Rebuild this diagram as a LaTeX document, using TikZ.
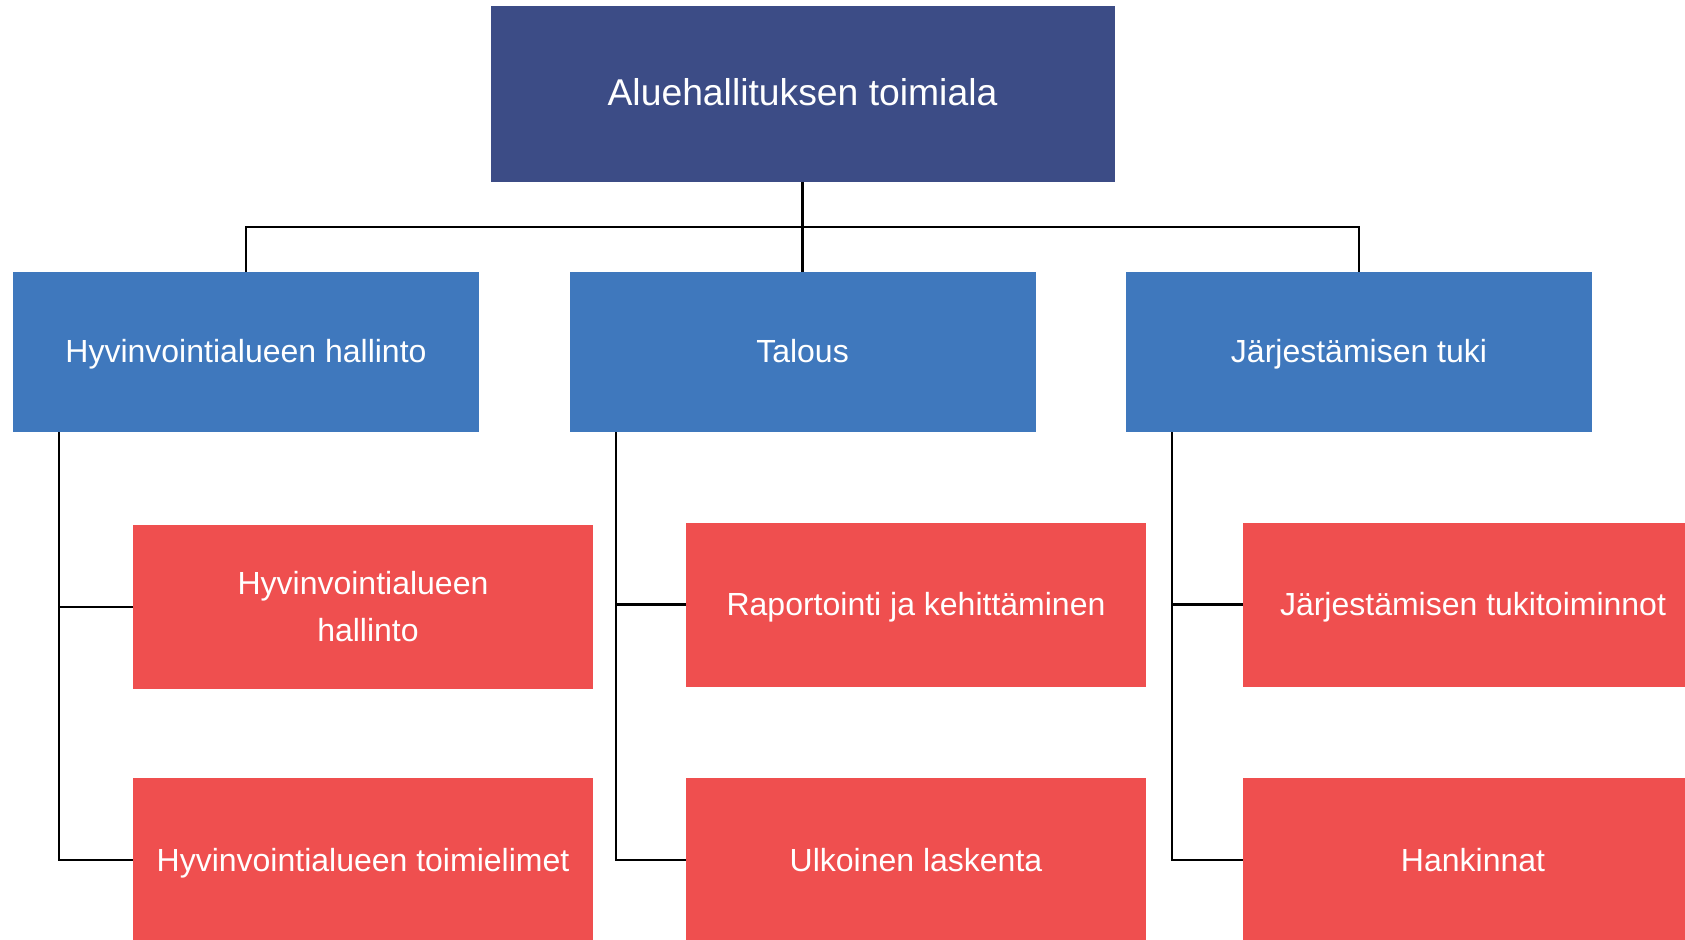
\documentclass[tikz,border=0pt]{standalone}
\usepackage{fontspec}
\setmainfont{Liberation Sans}
\definecolor{navy}{HTML}{3C4C86}
\definecolor{midblue}{HTML}{3F78BD}
\definecolor{boxred}{HTML}{EF4F4F}
\tikzset{
  topbox/.style={fill=navy, text=white, minimum width=624pt, minimum height=176pt, inner sep=0pt, text height=29pt, text depth=5pt, font=\fontsize{37.3}{44}\selectfont},
  unitbox/.style={fill=midblue, text=white, minimum width=466pt, minimum height=160pt, inner sep=0pt, text height=25pt, text depth=4pt, font=\fontsize{32}{38}\selectfont},
  subbox/.style={fill=boxred, text=white, minimum width=460pt, minimum height=164pt, inner sep=0pt, align=center, font=\fontsize{32}{47}\selectfont},
  oneline/.style={text height=26pt, text depth=4pt},
  conn/.style={draw=black, line width=2.6pt}
}
\begin{document}
\begin{tikzpicture}[x=1pt,y=-1pt]
\clip (0,0) rectangle (1685,939);
\fill[white] (0,0) rectangle (1685,939);
\node[topbox] (top) at (802.5,94) {Aluehallituksen toimiala};
\node[unitbox] (u1) at (246,352) {Hyvinvointialueen hallinto};
\node[unitbox] (u2) at (802.5,352) {Talous};
\node[unitbox] (u3) at (1359,352) {Järjestämisen tuki};
\node[subbox] (s11) at (363,607) {Hyvinvointialueen\\\hspace*{10pt}hallinto};
\node[subbox, oneline] (s12) at (363,860) {Hyvinvointialueen toimielimet};
\node[subbox, oneline] (s21) at (916,604.5) {Raportointi ja kehittäminen};
\node[subbox, oneline] (s22) at (916,860) {Ulkoinen laskenta};
\node[subbox, oneline] (s31) at (1473,604.5) {Järjestämisen tukitoiminnot};
\node[subbox, oneline] (s32) at (1473,860) {Hankinnat};
\coordinate (hb) at (802.5,227);
\draw[conn] (top.south) -- (hb);
\draw[conn] (u1.north) |- (hb) -| (u3.north);
\draw[conn] (hb) -- (u2.north);
\draw[conn] (u1.south -| 59,0) |- (s12.west);
\draw[conn] (59,0 |- s11.west) -- (s11.west);
\draw[conn] (u2.south -| 616,0) |- (s22.west);
\draw[conn] (616,0 |- s21.west) -- (s21.west);
\draw[conn] (u3.south -| 1172,0) |- (s32.west);
\draw[conn] (1172,0 |- s31.west) -- (s31.west);
\end{tikzpicture}
\end{document}
